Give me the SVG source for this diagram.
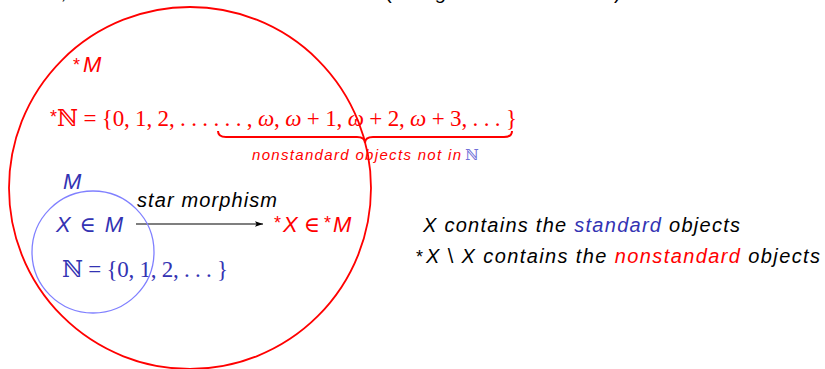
<svg xmlns="http://www.w3.org/2000/svg" width="825" height="369" viewBox="0 0 825 369">
<style>
.sans{font-family:"Liberation Sans","DejaVu Sans",sans-serif;}
.it{font-style:italic;}
.up{font-style:normal;}
.math{font-family:"Liberation Serif","DejaVu Serif",serif;}
.red{fill:#ff0000;}
.blue{fill:#3333b3;}
.blk{fill:#000000;}
.ast{font-family:"Liberation Sans","DejaVu Sans",sans-serif;font-size:18px;font-style:normal;}
</style>
<defs>
<marker id="arr" viewBox="0 0 10 10" refX="10" refY="5" markerWidth="8" markerHeight="8" markerUnits="userSpaceOnUse" orient="auto">
<path d="M0,1.5 L10,5 L0,8.5 L2,5 Z" fill="#000"/>
</marker>
</defs>
<rect width="825" height="369" fill="#fff"/>

<g id="topline" class="sans blk" font-size="20">
<text x="10" y="-1">≠</text>
<text x="62" y="-1" class="it">,</text>
<text x="385" y="-1">(</text>
<text x="436" y="-1" class="it">g</text>
<text x="614" y="-1">)</text>
</g>

<g id="starM-label">
<text x="73" y="71" class="ast red">*</text>
<text x="83" y="72" class="sans it red" font-size="22">M</text>
</g>

<g id="starN">
<text x="50" y="123" class="ast red">*</text>
<text x="57" y="126" class="math red" font-size="23" textLength="460" lengthAdjust="spacing">ℕ = {0, 1, 2, . . . . . . , <tspan class="it">ω</tspan>, <tspan class="it">ω</tspan> + 1, <tspan class="it">ω</tspan> + 2, <tspan class="it">ω</tspan> + 3, . . . }</text>
</g>

<g id="brace">
<path d="M218,131 Q218,137 226,137 L357,137 Q365,137 365,143 Q365,137 373,137 L504,137 Q512,137 512,131" fill="none" stroke="#ff0000" stroke-width="2"/>
<text x="252" y="160" class="sans it red" font-size="15" textLength="209" lengthAdjust="spacing">nonstandard objects not in</text>
<text x="465" y="160" class="math" font-size="15" fill="#7070d8">ℕ</text>
</g>

<g id="M-label">
<text x="63" y="189" class="sans it blue" font-size="22">M</text>
</g>

<g id="XinM">
<text x="56" y="232" class="sans it blue" font-size="22" textLength="67" lengthAdjust="spacing">X <tspan class="up math">∈</tspan> M</text>
</g>

<g id="blueN">
<text x="62" y="277" class="math blue" font-size="23" textLength="166" lengthAdjust="spacing">ℕ = {0, 1, 2, . . . }</text>
</g>

<g id="connectors">
<line x1="136" y1="224" x2="263" y2="224" stroke="#000" stroke-width="1.2" marker-end="url(#arr)"/>
<text x="137" y="207" class="sans it blk" font-size="20" textLength="140" lengthAdjust="spacing">star morphism</text>
</g>

<g id="starX">
<text x="274" y="229" class="ast red">*</text>
<text x="283" y="232" class="sans it red" font-size="22">X <tspan class="up math">∈</tspan> </text>
<text x="324" y="229" class="ast red">*</text>
<text x="333" y="232" class="sans it red" font-size="22">M</text>
</g>

<g id="explanation" class="sans it blk" font-size="20">
<text x="423" y="232" textLength="317" lengthAdjust="spacing">X contains the <tspan class="blue">standard</tspan> objects</text>
<text x="416" y="263" class="ast">*</text>
<text x="426" y="263" textLength="394" lengthAdjust="spacing">X <tspan class="up">\</tspan> X contains the <tspan class="red">nonstandard</tspan> objects</text>
</g>

<g id="circles" fill="none">
<circle cx="190" cy="188" r="181" stroke="#ff0000" stroke-width="1.8"/>
<circle cx="93" cy="252" r="61" stroke="#8080ff" stroke-width="1.3"/>
</g>
</svg>
